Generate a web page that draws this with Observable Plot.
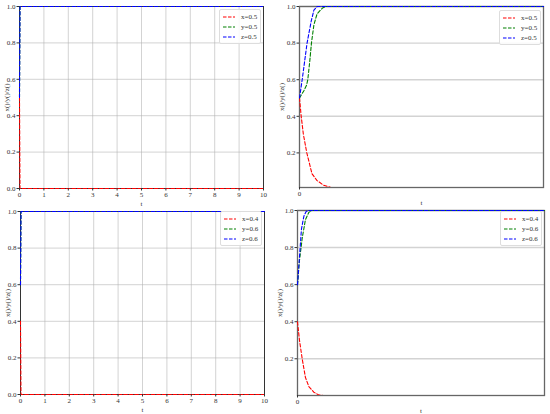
<!DOCTYPE html>
<html>
<head>
<meta charset="utf-8">
<script src="https://cdn.jsdelivr.net/npm/d3@7"></script>
<script src="https://cdn.jsdelivr.net/npm/@observablehq/plot@0.6"></script>
<style>
  body { margin: 0; background: #fff; }
  #root { position: relative; width: 550px; height: 414px; font-family: 'Liberation Serif', 'DejaVu Serif', serif; }
  .panel { position: absolute; width: 275px; height: 207px; }
  .panel svg text { font-family: 'Liberation Serif', 'DejaVu Serif', serif; }
  .legend { position: absolute; border: 1px solid #ddd; background: rgba(255,255,255,0.85); border-radius: 2px; padding: 2px 3px 1px 3px; font-size: 7px; color: #333; }
  .legend div { display: flex; align-items: center; height: 10px; }
  .legend svg { margin-right: 6px; }
</style>
</head>
<body>
<div id="root"></div>
<script>
// ---- data ----
const seriesNames = ["x", "y", "z"];
const seriesColors = ["#ff0000", "#008000", "#0000ff"];
const labelsTop = ["x=0.5", "y=0.5", "z=0.5"];
const labelsBottom = ["x=0.4", "y=0.6", "z=0.6"];
const yLabel = "x()/y()/z()";

// top-left (t in 0..10)
const tTL = [0, 0.02, 10];
const xTL = [0.5, 0, 0];
const yTL = [0.5, 1, 1];
const zTL = [0.5, 1, 1];

// bottom-left
const tBL = [0, 0.02, 10];
const xBL = [0.4, 0, 0];
const yBL = [0.6, 1, 1];
const zBL = [0.6, 1, 1];

// top-right (zoomed time axis, 0..100)
const tTRx = [0, 0.7, 1.6, 2.3, 3.0, 5.1, 7.1, 9.8, 13.3, 15, 100];
const xTR = [0.5, 0.4, 0.3, 0.25, 0.2, 0.087, 0.05, 0.024, 0.009, 0, 0];
const tTRy = [0, 1.8, 2.9, 3.4, 4.2, 4.9, 5.9, 7.2, 9.3, 10.7, 100];
const yTR = [0.5, 0.54, 0.57, 0.6, 0.7, 0.8, 0.9, 0.96, 0.99, 1, 1];
const tTRz = [0, 1.1, 3.1, 4.8, 5.9, 7.2, 100];
const zTR = [0.5, 0.6, 0.8, 0.92, 0.98, 1, 1];

// bottom-right
const tBRx = [0, 0.8, 1.9, 3.2, 4.6, 6.6, 8.6, 11.3, 100];
const xBR = [0.4, 0.3, 0.2, 0.1, 0.05, 0.02, 0.005, 0, 0];
const tBRy = [0, 0.8, 1.9, 3.2, 4.6, 5.9, 100];
const yBR = [0.6, 0.73, 0.85, 0.95, 0.99, 1, 1];
const tBRz = [0, 0.8, 1.6, 2.6, 3.5, 4.6, 100];
const zBR = [0.6, 0.75, 0.9, 0.97, 0.995, 1, 1];

const ticksLeftX = [0,1,2,3,4,5,6,7,8,9,10];
const ticksLeftY = [0, 0.2, 0.4, 0.6, 0.8, 1.0];
const ticksRightX = [0];
const ticksRightY = [0.2, 0.4, 0.6, 0.8, 1.0];

const root = document.getElementById("root");

function panel({left, top, margins, lines, xDomain, yDomain, xTicks, yTicks, full, labels, legendPos}) {
  const [mt, mr, mb, ml] = margins;
  const marks = [];
  if (full) {
    marks.push(Plot.gridX(xTicks, {stroke: "#b0b0b0", strokeOpacity: 0.7, strokeWidth: 0.8}));
    marks.push(Plot.gridY(yTicks, {stroke: "#b0b0b0", strokeOpacity: 0.7, strokeWidth: 0.8}));
  } else {
    marks.push(Plot.gridY(yTicks, {stroke: "#c8c8c8", strokeOpacity: 0.8, strokeWidth: 1.4}));
  }
  marks.push(Plot.frame({stroke: full ? "#333" : "#666", strokeWidth: full ? 1 : 1.3}));
  lines.forEach(([t, v], i) => {
    marks.push(Plot.line(v, {x: t, y: v, stroke: seriesColors[i], strokeWidth: 1.1, strokeDasharray: "3.5,2", clip: !full && i === 0}));
  });
  marks.push(Plot.axisX({ticks: xTicks, tickSize: 2.5, tickPadding: 1.5, tickFormat: d3.format("d"), label: "t", labelAnchor: "center", labelArrow: "none", labelOffset: 17, fontSize: 7}));
  marks.push(Plot.axisY({ticks: yTicks, tickSize: 2.5, tickPadding: 1.5, tickFormat: d3.format(".1f"), label: yLabel, labelAnchor: "center", labelArrow: "none", labelOffset: full ? 15 : 20, fontSize: 7}));
  const svg = Plot.plot({
    width: 275, height: 207,
    marginTop: mt, marginRight: mr, marginBottom: mb, marginLeft: ml,
    x: {domain: xDomain},
    y: {domain: yDomain},
    style: {fontFamily: "'Liberation Serif', 'DejaVu Serif', serif", fontSize: "7px", color: "#333", background: "transparent"},
    marks
  });
  const div = document.createElement("div");
  div.className = "panel";
  div.style.left = left + "px";
  div.style.top = top + "px";
  div.appendChild(svg);
  const lg = document.createElement("div");
  lg.className = "legend";
  lg.style.left = legendPos[0] + "px";
  lg.style.top = legendPos[1] + "px";
  labels.forEach((lab, i) => {
    const row = document.createElement("div");
    row.innerHTML = `<svg width="12" height="4"><line x1="0" y1="2" x2="12" y2="2" stroke="${seriesColors[i]}" stroke-width="1.1" stroke-dasharray="3.5,1.5"/></svg><span>${lab}</span>`;
    lg.appendChild(row);
  });
  div.appendChild(lg);
  root.appendChild(div);
}

panel({left: 0, top: 0, margins: [6, 12, 19, 19], full: true,
  lines: [[tTL, xTL], [tTL, yTL], [tTL, zTL]],
  xDomain: [0, 10], yDomain: [0, 1], xTicks: ticksLeftX, yTicks: ticksLeftY,
  labels: labelsTop, legendPos: [219, 9]});

panel({left: 275, top: 0, margins: [6, 7, 20, 24], full: false,
  lines: [[tTRx, xTR], [tTRy, yTR], [tTRz, zTR]],
  xDomain: [0, 100], yDomain: [0.011, 1], xTicks: ticksRightX, yTicks: ticksRightY,
  labels: labelsTop, legendPos: [224, 10]});

panel({left: 0, top: 207, margins: [4, 11, 20, 20], full: true,
  lines: [[tBL, xBL], [tBL, yBL], [tBL, zBL]],
  xDomain: [0, 10], yDomain: [0, 1], xTicks: ticksLeftX, yTicks: ticksLeftY,
  labels: labelsBottom, legendPos: [220, 4]});

panel({left: 275, top: 207, margins: [3, 6, 19, 22], full: false,
  lines: [[tBRx, xBR], [tBRy, yBR], [tBRz, zBR]],
  xDomain: [0, 100], yDomain: [0.002, 1], xTicks: ticksRightX, yTicks: ticksRightY,
  labels: labelsBottom, legendPos: [225, 4]});
</script>
</body>
</html>
